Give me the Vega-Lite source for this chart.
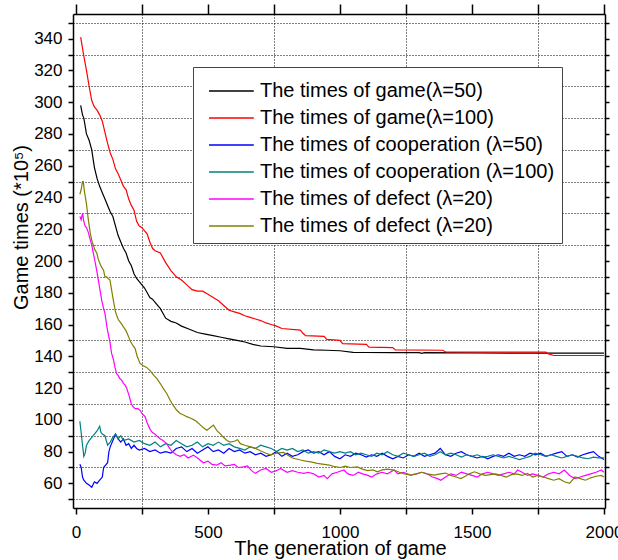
{
  "$schema": "https://vega.github.io/schema/vega-lite/v6.json",
  "width": 532,
  "height": 494,
  "autosize": {"type": "none"},
  "padding": {"left": 73, "top": 14, "right": 13, "bottom": 52},
  "background": "white",
  "config": {
    "view": {"stroke": null},
    "font": "Liberation Sans",
    "axis": {"labelFont": "Liberation Sans", "titleFont": "Liberation Sans", "labelColor": "#000", "titleColor": "#000", "domainColor": "#000", "tickColor": "#000", "domainWidth": 1.5, "tickWidth": 1.5, "titleFontWeight": "normal"},
    "legend": {"labelFont": "Liberation Sans"}
  },
  "data": {"values": [
    {"series":"g50","x":18,"y":298},{"series":"g50","x":25,"y":292},{"series":"g50","x":30,"y":290},{"series":"g50","x":40,"y":280},{"series":"g50","x":50,"y":276},{"series":"g50","x":60,"y":270},{"series":"g50","x":70,"y":259},{"series":"g50","x":80,"y":252},{"series":"g50","x":90,"y":247},{"series":"g50","x":100,"y":243},{"series":"g50","x":110,"y":239},{"series":"g50","x":120,"y":235},{"series":"g50","x":130,"y":231},{"series":"g50","x":140,"y":228},{"series":"g50","x":150,"y":222},{"series":"g50","x":160,"y":216},{"series":"g50","x":170,"y":212},{"series":"g50","x":180,"y":208},{"series":"g50","x":190,"y":205},{"series":"g50","x":200,"y":200},{"series":"g50","x":210,"y":197},{"series":"g50","x":220,"y":192},{"series":"g50","x":230,"y":189},{"series":"g50","x":240,"y":187},{"series":"g50","x":250,"y":185},{"series":"g50","x":260,"y":183},{"series":"g50","x":270,"y":180},{"series":"g50","x":280,"y":177},{"series":"g50","x":290,"y":176},{"series":"g50","x":300,"y":174},{"series":"g50","x":320,"y":170},{"series":"g50","x":340,"y":164},{"series":"g50","x":360,"y":162},{"series":"g50","x":380,"y":161},{"series":"g50","x":400,"y":159},{"series":"g50","x":430,"y":157},{"series":"g50","x":460,"y":155},{"series":"g50","x":490,"y":154},{"series":"g50","x":520,"y":153},{"series":"g50","x":550,"y":152},{"series":"g50","x":580,"y":151},{"series":"g50","x":610,"y":150},{"series":"g50","x":640,"y":149},{"series":"g50","x":670,"y":147.5},{"series":"g50","x":700,"y":146.5},{"series":"g50","x":750,"y":146},{"series":"g50","x":800,"y":145},{"series":"g50","x":850,"y":145},{"series":"g50","x":900,"y":144},{"series":"g50","x":950,"y":143.8},{"series":"g50","x":1000,"y":143.5},{"series":"g50","x":1050,"y":142.5},{"series":"g50","x":1100,"y":142.4},{"series":"g50","x":1200,"y":142.3},{"series":"g50","x":1300,"y":142.3},{"series":"g50","x":1310,"y":141.8},{"series":"g50","x":1320,"y":142.3},{"series":"g50","x":1500,"y":142.2},{"series":"g50","x":1700,"y":142},{"series":"g50","x":2000,"y":142},
    {"series":"g100","x":18,"y":341},{"series":"g100","x":25,"y":334},{"series":"g100","x":30,"y":329},{"series":"g100","x":40,"y":320},{"series":"g100","x":50,"y":310},{"series":"g100","x":60,"y":301},{"series":"g100","x":70,"y":297},{"series":"g100","x":80,"y":295},{"series":"g100","x":90,"y":292},{"series":"g100","x":100,"y":288},{"series":"g100","x":110,"y":281},{"series":"g100","x":120,"y":274},{"series":"g100","x":130,"y":268},{"series":"g100","x":140,"y":264},{"series":"g100","x":150,"y":258},{"series":"g100","x":160,"y":255},{"series":"g100","x":170,"y":251},{"series":"g100","x":180,"y":247},{"series":"g100","x":190,"y":245},{"series":"g100","x":200,"y":239},{"series":"g100","x":210,"y":235},{"series":"g100","x":220,"y":232},{"series":"g100","x":230,"y":225},{"series":"g100","x":240,"y":222},{"series":"g100","x":250,"y":221},{"series":"g100","x":260,"y":219},{"series":"g100","x":270,"y":217},{"series":"g100","x":280,"y":212},{"series":"g100","x":290,"y":208},{"series":"g100","x":300,"y":206.5},{"series":"g100","x":320,"y":205},{"series":"g100","x":340,"y":199},{"series":"g100","x":360,"y":194},{"series":"g100","x":380,"y":190},{"series":"g100","x":400,"y":188},{"series":"g100","x":420,"y":185},{"series":"g100","x":440,"y":182},{"series":"g100","x":460,"y":181},{"series":"g100","x":480,"y":181},{"series":"g100","x":500,"y":179},{"series":"g100","x":520,"y":177},{"series":"g100","x":540,"y":175},{"series":"g100","x":560,"y":172},{"series":"g100","x":580,"y":169},{"series":"g100","x":600,"y":168},{"series":"g100","x":620,"y":167},{"series":"g100","x":640,"y":165.5},{"series":"g100","x":660,"y":164.5},{"series":"g100","x":680,"y":163.5},{"series":"g100","x":700,"y":162.5},{"series":"g100","x":720,"y":161},{"series":"g100","x":740,"y":160},{"series":"g100","x":760,"y":159},{"series":"g100","x":780,"y":157.5},{"series":"g100","x":850,"y":156.5},{"series":"g100","x":860,"y":154.5},{"series":"g100","x":870,"y":153},{"series":"g100","x":940,"y":152.5},{"series":"g100","x":950,"y":150.6},{"series":"g100","x":1000,"y":150},{"series":"g100","x":1010,"y":148},{"series":"g100","x":1100,"y":147.5},{"series":"g100","x":1110,"y":145.8},{"series":"g100","x":1200,"y":145.5},{"series":"g100","x":1210,"y":144},{"series":"g100","x":1390,"y":143.8},{"series":"g100","x":1400,"y":142.7},{"series":"g100","x":1780,"y":142.6},{"series":"g100","x":1790,"y":141.5},{"series":"g100","x":1810,"y":140.5},{"series":"g100","x":2000,"y":140.5},
    {"series":"c50","x":15,"y":72},{"series":"c50","x":20,"y":70},{"series":"c50","x":25,"y":64},{"series":"c50","x":30,"y":62},{"series":"c50","x":40,"y":60},{"series":"c50","x":50,"y":59},{"series":"c50","x":60,"y":57.5},{"series":"c50","x":70,"y":61},{"series":"c50","x":80,"y":60},{"series":"c50","x":90,"y":62},{"series":"c50","x":100,"y":64},{"series":"c50","x":105,"y":70},{"series":"c50","x":110,"y":71},{"series":"c50","x":120,"y":73},{"series":"c50","x":125,"y":80},{"series":"c50","x":130,"y":83},{"series":"c50","x":140,"y":87},{"series":"c50","x":150,"y":91},{"series":"c50","x":160,"y":88},{"series":"c50","x":170,"y":86},{"series":"c50","x":180,"y":88},{"series":"c50","x":190,"y":84},{"series":"c50","x":200,"y":85},{"series":"c50","x":210,"y":82},{"series":"c50","x":220,"y":84},{"series":"c50","x":230,"y":82},{"series":"c50","x":240,"y":81},{"series":"c50","x":260,"y":82},{"series":"c50","x":280,"y":80},{"series":"c50","x":300,"y":81},{"series":"c50","x":320,"y":79},{"series":"c50","x":340,"y":80},{"series":"c50","x":360,"y":79},{"series":"c50","x":380,"y":82},{"series":"c50","x":400,"y":83},{"series":"c50","x":420,"y":80},{"series":"c50","x":440,"y":82},{"series":"c50","x":460,"y":79},{"series":"c50","x":480,"y":81},{"series":"c50","x":500,"y":83},{"series":"c50","x":520,"y":80},{"series":"c50","x":540,"y":81},{"series":"c50","x":560,"y":79},{"series":"c50","x":580,"y":82},{"series":"c50","x":600,"y":80},{"series":"c50","x":620,"y":81},{"series":"c50","x":640,"y":79},{"series":"c50","x":660,"y":80},{"series":"c50","x":680,"y":78},{"series":"c50","x":700,"y":79},{"series":"c50","x":720,"y":77},{"series":"c50","x":740,"y":78},{"series":"c50","x":760,"y":80},{"series":"c50","x":780,"y":77},{"series":"c50","x":800,"y":79},{"series":"c50","x":820,"y":77},{"series":"c50","x":840,"y":78},{"series":"c50","x":860,"y":80},{"series":"c50","x":880,"y":81},{"series":"c50","x":900,"y":79},{"series":"c50","x":920,"y":80},{"series":"c50","x":940,"y":78},{"series":"c50","x":960,"y":80},{"series":"c50","x":980,"y":77},{"series":"c50","x":1000,"y":75.5},{"series":"c50","x":1020,"y":78},{"series":"c50","x":1040,"y":77},{"series":"c50","x":1060,"y":79},{"series":"c50","x":1080,"y":78},{"series":"c50","x":1100,"y":76.5},{"series":"c50","x":1120,"y":78},{"series":"c50","x":1140,"y":77},{"series":"c50","x":1160,"y":79},{"series":"c50","x":1180,"y":77},{"series":"c50","x":1200,"y":75.5},{"series":"c50","x":1220,"y":77},{"series":"c50","x":1240,"y":76},{"series":"c50","x":1260,"y":78},{"series":"c50","x":1280,"y":77},{"series":"c50","x":1300,"y":79},{"series":"c50","x":1320,"y":77},{"series":"c50","x":1340,"y":78},{"series":"c50","x":1360,"y":79},{"series":"c50","x":1380,"y":82},{"series":"c50","x":1400,"y":78},{"series":"c50","x":1420,"y":77},{"series":"c50","x":1440,"y":79},{"series":"c50","x":1460,"y":80},{"series":"c50","x":1480,"y":78},{"series":"c50","x":1500,"y":77},{"series":"c50","x":1520,"y":76},{"series":"c50","x":1540,"y":77},{"series":"c50","x":1560,"y":75.5},{"series":"c50","x":1580,"y":77},{"series":"c50","x":1600,"y":78},{"series":"c50","x":1620,"y":77},{"series":"c50","x":1640,"y":79},{"series":"c50","x":1660,"y":77},{"series":"c50","x":1680,"y":78},{"series":"c50","x":1700,"y":77},{"series":"c50","x":1720,"y":79},{"series":"c50","x":1740,"y":78},{"series":"c50","x":1760,"y":79},{"series":"c50","x":1780,"y":77},{"series":"c50","x":1800,"y":78},{"series":"c50","x":1820,"y":79},{"series":"c50","x":1840,"y":80},{"series":"c50","x":1860,"y":77},{"series":"c50","x":1880,"y":78},{"series":"c50","x":1900,"y":76.5},{"series":"c50","x":1920,"y":78},{"series":"c50","x":1940,"y":79},{"series":"c50","x":1960,"y":80},{"series":"c50","x":1980,"y":77},{"series":"c50","x":2000,"y":75},
    {"series":"c100","x":15,"y":99},{"series":"c100","x":20,"y":92},{"series":"c100","x":25,"y":84},{"series":"c100","x":30,"y":77},{"series":"c100","x":35,"y":79},{"series":"c100","x":40,"y":84},{"series":"c100","x":50,"y":87},{"series":"c100","x":60,"y":89},{"series":"c100","x":70,"y":91},{"series":"c100","x":80,"y":93},{"series":"c100","x":90,"y":96},{"series":"c100","x":95,"y":92},{"series":"c100","x":100,"y":91},{"series":"c100","x":110,"y":90},{"series":"c100","x":120,"y":84},{"series":"c100","x":130,"y":86},{"series":"c100","x":140,"y":89},{"series":"c100","x":150,"y":91},{"series":"c100","x":160,"y":88},{"series":"c100","x":170,"y":90},{"series":"c100","x":180,"y":87},{"series":"c100","x":200,"y":88},{"series":"c100","x":220,"y":86},{"series":"c100","x":240,"y":87},{"series":"c100","x":260,"y":85},{"series":"c100","x":280,"y":84},{"series":"c100","x":300,"y":86},{"series":"c100","x":320,"y":83},{"series":"c100","x":340,"y":85},{"series":"c100","x":360,"y":84},{"series":"c100","x":380,"y":87},{"series":"c100","x":400,"y":85},{"series":"c100","x":420,"y":83},{"series":"c100","x":440,"y":84},{"series":"c100","x":460,"y":86},{"series":"c100","x":480,"y":83},{"series":"c100","x":500,"y":85},{"series":"c100","x":520,"y":84},{"series":"c100","x":540,"y":86},{"series":"c100","x":560,"y":84},{"series":"c100","x":580,"y":85},{"series":"c100","x":600,"y":83},{"series":"c100","x":620,"y":82},{"series":"c100","x":640,"y":81},{"series":"c100","x":660,"y":83},{"series":"c100","x":680,"y":82},{"series":"c100","x":700,"y":84},{"series":"c100","x":720,"y":83},{"series":"c100","x":740,"y":82},{"series":"c100","x":760,"y":80},{"series":"c100","x":780,"y":82},{"series":"c100","x":800,"y":81},{"series":"c100","x":820,"y":82},{"series":"c100","x":840,"y":80},{"series":"c100","x":860,"y":81},{"series":"c100","x":880,"y":79},{"series":"c100","x":900,"y":80},{"series":"c100","x":920,"y":79},{"series":"c100","x":940,"y":81},{"series":"c100","x":960,"y":80},{"series":"c100","x":980,"y":79},{"series":"c100","x":1000,"y":80},{"series":"c100","x":1020,"y":79},{"series":"c100","x":1040,"y":80},{"series":"c100","x":1060,"y":78},{"series":"c100","x":1080,"y":79},{"series":"c100","x":1100,"y":78},{"series":"c100","x":1120,"y":77},{"series":"c100","x":1140,"y":79},{"series":"c100","x":1160,"y":78},{"series":"c100","x":1180,"y":80},{"series":"c100","x":1200,"y":78},{"series":"c100","x":1220,"y":77},{"series":"c100","x":1240,"y":79},{"series":"c100","x":1260,"y":78},{"series":"c100","x":1280,"y":77},{"series":"c100","x":1300,"y":78},{"series":"c100","x":1320,"y":79},{"series":"c100","x":1340,"y":77},{"series":"c100","x":1360,"y":78},{"series":"c100","x":1380,"y":80},{"series":"c100","x":1400,"y":78},{"series":"c100","x":1420,"y":79},{"series":"c100","x":1440,"y":78},{"series":"c100","x":1460,"y":76.5},{"series":"c100","x":1480,"y":78},{"series":"c100","x":1500,"y":77},{"series":"c100","x":1520,"y":78},{"series":"c100","x":1540,"y":76.5},{"series":"c100","x":1560,"y":77},{"series":"c100","x":1580,"y":78},{"series":"c100","x":1600,"y":77},{"series":"c100","x":1620,"y":76},{"series":"c100","x":1640,"y":77},{"series":"c100","x":1660,"y":76},{"series":"c100","x":1680,"y":75},{"series":"c100","x":1700,"y":76},{"series":"c100","x":1720,"y":77},{"series":"c100","x":1740,"y":79},{"series":"c100","x":1760,"y":78},{"series":"c100","x":1780,"y":77},{"series":"c100","x":1800,"y":78},{"series":"c100","x":1820,"y":77},{"series":"c100","x":1840,"y":76},{"series":"c100","x":1860,"y":77},{"series":"c100","x":1880,"y":78},{"series":"c100","x":1900,"y":77},{"series":"c100","x":1920,"y":76},{"series":"c100","x":1940,"y":75.5},{"series":"c100","x":1960,"y":76.5},{"series":"c100","x":1980,"y":76},{"series":"c100","x":2000,"y":76},
    {"series":"d20a","x":15,"y":228},{"series":"d20a","x":20,"y":226},{"series":"d20a","x":25,"y":230},{"series":"d20a","x":30,"y":225},{"series":"d20a","x":35,"y":222},{"series":"d20a","x":40,"y":221},{"series":"d20a","x":47,"y":218},{"series":"d20a","x":55,"y":213},{"series":"d20a","x":60,"y":210},{"series":"d20a","x":66,"y":205},{"series":"d20a","x":72,"y":200},{"series":"d20a","x":80,"y":193},{"series":"d20a","x":85,"y":188},{"series":"d20a","x":92,"y":181},{"series":"d20a","x":98,"y":175},{"series":"d20a","x":105,"y":170},{"series":"d20a","x":110,"y":167},{"series":"d20a","x":118,"y":158},{"series":"d20a","x":125,"y":152},{"series":"d20a","x":129,"y":149},{"series":"d20a","x":135,"y":142},{"series":"d20a","x":142,"y":138},{"series":"d20a","x":148,"y":133},{"series":"d20a","x":154,"y":129},{"series":"d20a","x":160,"y":128},{"series":"d20a","x":166,"y":126},{"series":"d20a","x":173,"y":125},{"series":"d20a","x":180,"y":123},{"series":"d20a","x":186,"y":122},{"series":"d20a","x":192,"y":120},{"series":"d20a","x":200,"y":116},{"series":"d20a","x":210,"y":110},{"series":"d20a","x":218,"y":108},{"series":"d20a","x":225,"y":107},{"series":"d20a","x":235,"y":107},{"series":"d20a","x":243,"y":106},{"series":"d20a","x":250,"y":104},{"series":"d20a","x":262,"y":102},{"series":"d20a","x":270,"y":98},{"series":"d20a","x":281,"y":94},{"series":"d20a","x":290,"y":92},{"series":"d20a","x":300,"y":91},{"series":"d20a","x":306,"y":90},{"series":"d20a","x":320,"y":88},{"series":"d20a","x":330,"y":87},{"series":"d20a","x":344,"y":85},{"series":"d20a","x":355,"y":82},{"series":"d20a","x":365,"y":80},{"series":"d20a","x":380,"y":78},{"series":"d20a","x":395,"y":77},{"series":"d20a","x":410,"y":78},{"series":"d20a","x":425,"y":76},{"series":"d20a","x":445,"y":77.8},{"series":"d20a","x":460,"y":76},{"series":"d20a","x":483,"y":73},{"series":"d20a","x":500,"y":74},{"series":"d20a","x":515,"y":72},{"series":"d20a","x":534,"y":71.5},{"series":"d20a","x":550,"y":73},{"series":"d20a","x":565,"y":71},{"series":"d20a","x":585,"y":71.5},{"series":"d20a","x":600,"y":72},{"series":"d20a","x":615,"y":70},{"series":"d20a","x":635,"y":70.4},{"series":"d20a","x":650,"y":71},{"series":"d20a","x":665,"y":68},{"series":"d20a","x":680,"y":66.3},{"series":"d20a","x":700,"y":68.4},{"series":"d20a","x":720,"y":69.4},{"series":"d20a","x":740,"y":67},{"series":"d20a","x":760,"y":68},{"series":"d20a","x":775,"y":69.4},{"series":"d20a","x":800,"y":67},{"series":"d20a","x":820,"y":68},{"series":"d20a","x":840,"y":67},{"series":"d20a","x":863,"y":66.3},{"series":"d20a","x":880,"y":67},{"series":"d20a","x":900,"y":66},{"series":"d20a","x":920,"y":64},{"series":"d20a","x":940,"y":65},{"series":"d20a","x":952,"y":63},{"series":"d20a","x":970,"y":66},{"series":"d20a","x":990,"y":67},{"series":"d20a","x":1015,"y":68.4},{"series":"d20a","x":1030,"y":66},{"series":"d20a","x":1050,"y":65},{"series":"d20a","x":1070,"y":67},{"series":"d20a","x":1085,"y":66},{"series":"d20a","x":1104,"y":65.2},{"series":"d20a","x":1120,"y":64},{"series":"d20a","x":1140,"y":66},{"series":"d20a","x":1160,"y":67},{"series":"d20a","x":1180,"y":66},{"series":"d20a","x":1205,"y":68.4},{"series":"d20a","x":1220,"y":66},{"series":"d20a","x":1240,"y":67},{"series":"d20a","x":1268,"y":65.2},{"series":"d20a","x":1290,"y":66},{"series":"d20a","x":1310,"y":67},{"series":"d20a","x":1330,"y":66},{"series":"d20a","x":1350,"y":64},{"series":"d20a","x":1370,"y":63},{"series":"d20a","x":1382,"y":62},{"series":"d20a","x":1400,"y":64},{"series":"d20a","x":1420,"y":66},{"series":"d20a","x":1440,"y":65},{"series":"d20a","x":1460,"y":67},{"series":"d20a","x":1480,"y":66},{"series":"d20a","x":1500,"y":65},{"series":"d20a","x":1520,"y":64},{"series":"d20a","x":1540,"y":66},{"series":"d20a","x":1560,"y":67},{"series":"d20a","x":1580,"y":66},{"series":"d20a","x":1600,"y":65},{"series":"d20a","x":1620,"y":66},{"series":"d20a","x":1640,"y":67},{"series":"d20a","x":1660,"y":66},{"series":"d20a","x":1673,"y":68.4},{"series":"d20a","x":1690,"y":67},{"series":"d20a","x":1710,"y":65},{"series":"d20a","x":1730,"y":66},{"series":"d20a","x":1750,"y":65},{"series":"d20a","x":1770,"y":64},{"series":"d20a","x":1790,"y":66},{"series":"d20a","x":1810,"y":67},{"series":"d20a","x":1830,"y":66},{"series":"d20a","x":1850,"y":68.4},{"series":"d20a","x":1870,"y":65},{"series":"d20a","x":1890,"y":63},{"series":"d20a","x":1910,"y":64},{"series":"d20a","x":1930,"y":65},{"series":"d20a","x":1950,"y":66},{"series":"d20a","x":1970,"y":67},{"series":"d20a","x":1990,"y":68.4},{"series":"d20a","x":2000,"y":67},
    {"series":"d20b","x":15,"y":242},{"series":"d20b","x":20,"y":245},{"series":"d20b","x":25,"y":250},{"series":"d20b","x":28,"y":250},{"series":"d20b","x":32,"y":244},{"series":"d20b","x":36,"y":240},{"series":"d20b","x":40,"y":236},{"series":"d20b","x":47,"y":226},{"series":"d20b","x":54,"y":218},{"series":"d20b","x":60,"y":213},{"series":"d20b","x":66,"y":210},{"series":"d20b","x":72,"y":207},{"series":"d20b","x":79,"y":205},{"series":"d20b","x":85,"y":201},{"series":"d20b","x":92,"y":198},{"series":"d20b","x":98,"y":196},{"series":"d20b","x":105,"y":194},{"series":"d20b","x":110,"y":190},{"series":"d20b","x":116,"y":190},{"series":"d20b","x":122,"y":189},{"series":"d20b","x":129,"y":188},{"series":"d20b","x":135,"y":182},{"series":"d20b","x":142,"y":175},{"series":"d20b","x":150,"y":168},{"series":"d20b","x":156,"y":165},{"series":"d20b","x":161,"y":163},{"series":"d20b","x":170,"y":161},{"series":"d20b","x":180,"y":158.5},{"series":"d20b","x":190,"y":156},{"series":"d20b","x":198,"y":153},{"series":"d20b","x":205,"y":150},{"series":"d20b","x":215,"y":147},{"series":"d20b","x":224,"y":145},{"series":"d20b","x":232,"y":140},{"series":"d20b","x":243,"y":135.5},{"series":"d20b","x":255,"y":134},{"series":"d20b","x":268,"y":133},{"series":"d20b","x":281,"y":131},{"series":"d20b","x":295,"y":128},{"series":"d20b","x":307,"y":126},{"series":"d20b","x":319,"y":123},{"series":"d20b","x":330,"y":120},{"series":"d20b","x":344,"y":116.6},{"series":"d20b","x":355,"y":113},{"series":"d20b","x":365,"y":110},{"series":"d20b","x":382,"y":106},{"series":"d20b","x":395,"y":104},{"series":"d20b","x":408,"y":103},{"series":"d20b","x":420,"y":102},{"series":"d20b","x":435,"y":101},{"series":"d20b","x":447,"y":100},{"series":"d20b","x":458,"y":98.8},{"series":"d20b","x":470,"y":97},{"series":"d20b","x":483,"y":95},{"series":"d20b","x":496,"y":93.5},{"series":"d20b","x":508,"y":95},{"series":"d20b","x":521,"y":96.7},{"series":"d20b","x":535,"y":93},{"series":"d20b","x":548,"y":91},{"series":"d20b","x":559,"y":89},{"series":"d20b","x":572,"y":87},{"series":"d20b","x":585,"y":86},{"series":"d20b","x":600,"y":86.5},{"series":"d20b","x":612,"y":87.5},{"series":"d20b","x":623,"y":85},{"series":"d20b","x":640,"y":84},{"series":"d20b","x":661,"y":83},{"series":"d20b","x":680,"y":82},{"series":"d20b","x":699,"y":80.5},{"series":"d20b","x":720,"y":79},{"series":"d20b","x":737,"y":78},{"series":"d20b","x":760,"y":79},{"series":"d20b","x":787,"y":79.5},{"series":"d20b","x":800,"y":78},{"series":"d20b","x":820,"y":76},{"series":"d20b","x":851,"y":74.7},{"series":"d20b","x":870,"y":74},{"series":"d20b","x":890,"y":73.5},{"series":"d20b","x":914,"y":72.6},{"series":"d20b","x":940,"y":72},{"series":"d20b","x":960,"y":71.5},{"series":"d20b","x":980,"y":70.5},{"series":"d20b","x":1002,"y":70},{"series":"d20b","x":1020,"y":70.8},{"series":"d20b","x":1040,"y":70},{"series":"d20b","x":1066,"y":70.4},{"series":"d20b","x":1085,"y":69},{"series":"d20b","x":1105,"y":68},{"series":"d20b","x":1125,"y":68.5},{"series":"d20b","x":1142,"y":67.3},{"series":"d20b","x":1160,"y":68.5},{"series":"d20b","x":1180,"y":69},{"series":"d20b","x":1205,"y":68.4},{"series":"d20b","x":1225,"y":67},{"series":"d20b","x":1245,"y":66},{"series":"d20b","x":1268,"y":65.2},{"series":"d20b","x":1290,"y":66},{"series":"d20b","x":1310,"y":67},{"series":"d20b","x":1330,"y":66},{"series":"d20b","x":1357,"y":65.2},{"series":"d20b","x":1380,"y":66},{"series":"d20b","x":1400,"y":66.5},{"series":"d20b","x":1420,"y":65},{"series":"d20b","x":1440,"y":64},{"series":"d20b","x":1458,"y":63},{"series":"d20b","x":1475,"y":64.5},{"series":"d20b","x":1490,"y":66},{"series":"d20b","x":1509,"y":67.3},{"series":"d20b","x":1530,"y":66},{"series":"d20b","x":1550,"y":65},{"series":"d20b","x":1570,"y":65.5},{"series":"d20b","x":1590,"y":66},{"series":"d20b","x":1610,"y":65},{"series":"d20b","x":1630,"y":64},{"series":"d20b","x":1650,"y":65.5},{"series":"d20b","x":1670,"y":66},{"series":"d20b","x":1690,"y":65},{"series":"d20b","x":1710,"y":66.3},{"series":"d20b","x":1730,"y":64},{"series":"d20b","x":1750,"y":65},{"series":"d20b","x":1770,"y":64},{"series":"d20b","x":1790,"y":63},{"series":"d20b","x":1810,"y":62},{"series":"d20b","x":1830,"y":63},{"series":"d20b","x":1850,"y":61},{"series":"d20b","x":1870,"y":60},{"series":"d20b","x":1890,"y":64},{"series":"d20b","x":1910,"y":63},{"series":"d20b","x":1930,"y":62},{"series":"d20b","x":1950,"y":63.5},{"series":"d20b","x":1970,"y":64.5},{"series":"d20b","x":1990,"y":65},{"series":"d20b","x":2000,"y":64}
  ]},
  "layer": [
    {
      "mark": {"type": "line", "strokeWidth": 1.2},
      "encoding": {
        "x": {"field": "x", "type": "quantitative",
          "scale": {"domain": [-11, 2004], "nice": false, "zero": false},
          "axis": {"orient": "bottom", "values": [0,250,500,750,1000,1250,1500,1750,2000], "format": "d",
            "labelExpr": "datum.value % 500 == 0 ? datum.label : ''",
            "labelFontSize": 17, "labelOverlap": false, "labelFlush": false, "labelBaseline": "alphabetic", "labelPadding": 23,
            "tickSize": 6, "grid": true, "gridColor": "#000", "gridDash": [1, 2], "gridWidth": 1,
            "gridOpacity": {"condition": {"test": "datum.value % 500 == 0", "value": 0}, "value": 1},
            "title": "The generation of game", "titleFontSize": 20, "titleX": 267, "titleY": 46, "titleBaseline": "alphabetic", "titleAlign": "center"}},
        "y": {"field": "y", "type": "quantitative",
          "scale": {"domain": [44.5, 355.5], "nice": false, "zero": false},
          "axis": {"orient": "left", "values": [50,60,70,80,90,100,110,120,130,140,150,160,170,180,190,200,210,220,230,240,250,260,270,280,290,300,310,320,330,340,350],
            "labelExpr": "datum.value % 20 == 0 ? datum.label : ''",
            "labelFontSize": 17, "labelOverlap": false, "labelFlush": false, "labelPadding": 6,
            "tickSize": 5, "grid": true, "gridColor": "#000", "gridDash": [1, 2], "gridWidth": 1,
            "gridOpacity": {"condition": {"test": "datum.value % 20 == 0", "value": 0}, "value": 1},
            "title": "Game times (*10⁵)", "titleFontSize": 20, "titleAngle": -90, "titleX": -46, "titleY": 213, "titleBaseline": "alphabetic", "titleAlign": "center"}},
        "color": {"field": "series", "type": "nominal",
          "scale": {"domain": ["g50","g100","c50","c100","d20a","d20b"], "range": ["#000000","#ff0000","#0000ff","#008080","#ff00ff","#808000"]},
          "legend": {"title": null, "orient": "none", "legendX": 120, "legendY": 53, "padding": 7,
            "strokeColor": "#444", "fillColor": "#ffffff", "symbolType": "M-1.4,0L1.4,0", "symbolSize": 1024, "symbolStrokeWidth": 1.5, "symbolOffset": 14.4,
            "labelFontSize": 20, "labelLimit": 500, "labelOffset": 11.6, "rowPadding": 0, "labelColor": "#000",
            "labelExpr": "datum.label == 'g50' ? 'The times of game(λ=50)' : datum.label == 'g100' ? 'The times of game(λ=100)' : datum.label == 'c50' ? 'The times of cooperation (λ=50)' : datum.label == 'c100' ? 'The times of cooperation (λ=100)' : 'The times of defect (λ=20)'"}}
      }
    },
    {
      "mark": {"type": "line", "opacity": 0},
      "encoding": {
        "x": {"field": "x", "type": "quantitative",
          "axis": {"orient": "top", "values": [0,250,500,750,1000,1250,1500,1750,2000], "labels": false, "tickSize": 10, "grid": false, "title": null}},
        "y": {"field": "y", "type": "quantitative",
          "axis": {"orient": "right", "values": [50,60,70,80,90,100,110,120,130,140,150,160,170,180,190,200,210,220,230,240,250,260,270,280,290,300,310,320,330,340,350], "labels": false, "tickSize": 4, "grid": false, "title": null}}
      }
    }
  ],
  "resolve": {"axis": {"x": "independent", "y": "independent"}}
}
